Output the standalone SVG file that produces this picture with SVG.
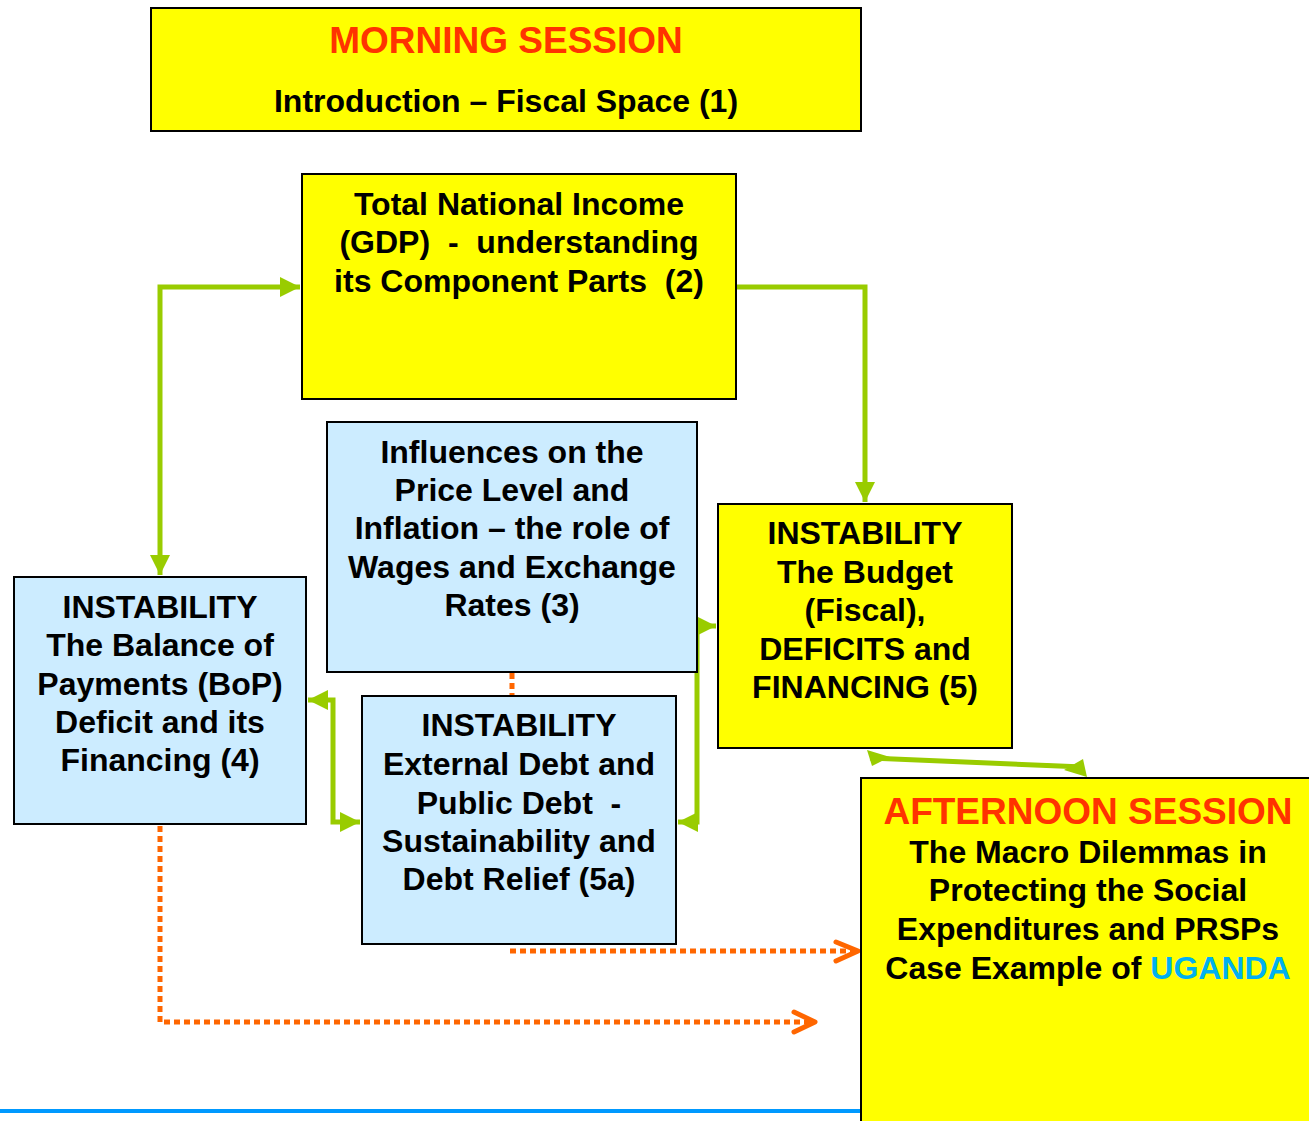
<svg xmlns="http://www.w3.org/2000/svg" width="1309" height="1121" viewBox="0 0 1309 1121">
<style>
.y{fill:#FFFF00;stroke:#000;stroke-width:2}
.b{fill:#CCECFF;stroke:#000;stroke-width:2}
text{font-family:"Liberation Sans",Arial,sans-serif;font-weight:bold;font-size:32px;fill:#000;text-anchor:middle}
.t{font-size:37px;fill:#FF3300}
.g{fill:none;stroke:#99CC00;stroke-width:5}
.o{fill:none;stroke:#FF6600;stroke-width:5;stroke-dasharray:6 4}
.ch{fill:none;stroke:#FF6600;stroke-width:5;stroke-linecap:round;stroke-linejoin:round}
</style>
<defs>
<marker id="ga" viewBox="0 0 10 10" refX="10" refY="5" markerWidth="4" markerHeight="4" orient="auto-start-reverse" markerUnits="strokeWidth">
<path d="M0,0 L10,5 L0,10 Z" fill="#99CC00"/>
</marker>
</defs>
<rect width="1309" height="1121" fill="#fff"/>
<line x1="0" y1="1111" x2="861" y2="1111" stroke="#0099FF" stroke-width="4"/>
<g id="connectors">
<path class="g" d="M160,575 L160,287 L300,287" marker-start="url(#ga)" marker-end="url(#ga)"/>
<path class="g" d="M736,287 L865,287 L865,502" marker-end="url(#ga)"/>
<path class="g" d="M308,700 L333,700 L333,822 L360,822" marker-start="url(#ga)" marker-end="url(#ga)"/>
<path class="g" d="M716,626 L697,626 L697,822 L678,822" marker-start="url(#ga)" marker-end="url(#ga)"/>
<path class="g" d="M870,758 L1083,767" />
<polygon points="867,750 890,757 872,766" fill="#99CC00"/>
<polygon points="1087,777 1064,770 1083,759" fill="#99CC00"/>
<path class="o" d="M512,673 L512,696"/>
<path class="o" d="M510,951 L855,951"/>
<path class="ch" d="M836,942 L858,951 L836,961"/>
<path class="o" d="M160,826 L160,1022 L812,1022"/>
<path class="ch" d="M794,1012 L815,1022 L794,1032"/>
</g>
<g id="morning">
<rect class="y" x="151" y="8" width="710" height="123"/>
<text class="t" x="506" y="53">MORNING SESSION</text>
<text x="506" y="112">Introduction – Fiscal Space (1)</text>
</g>
<g id="node2">
<rect class="y" x="302" y="174" width="434" height="225"/>
<text x="519" y="215">Total National Income</text>
<text x="519" y="253" xml:space="preserve">(GDP)  -  understanding</text>
<text x="519" y="292" xml:space="preserve">its Component Parts  (2)</text>
</g>
<g id="node3">
<rect class="b" x="327" y="422" width="370" height="250"/>
<text x="512" y="463">Influences on the</text>
<text x="512" y="501">Price Level and</text>
<text x="512" y="539">Inflation – the role of</text>
<text x="512" y="578">Wages and Exchange</text>
<text x="512" y="616">Rates (3)</text>
</g>
<g id="node4">
<rect class="b" x="14" y="577" width="292" height="247"/>
<text x="160" y="618">INSTABILITY</text>
<text x="160" y="656">The Balance of</text>
<text x="160" y="695">Payments (BoP)</text>
<text x="160" y="733">Deficit and its</text>
<text x="160" y="771">Financing (4)</text>
</g>
<g id="node5a">
<rect class="b" x="362" y="696" width="314" height="248"/>
<text x="519" y="736">INSTABILITY</text>
<text x="519" y="775">External Debt and</text>
<text x="519" y="814" xml:space="preserve">Public Debt  -</text>
<text x="519" y="852">Sustainability and</text>
<text x="519" y="890">Debt Relief (5a)</text>
</g>
<g id="node5">
<rect class="y" x="718" y="504" width="294" height="244"/>
<text x="865" y="544">INSTABILITY</text>
<text x="865" y="583">The Budget</text>
<text x="865" y="621">(Fiscal),</text>
<text x="865" y="660">DEFICITS and</text>
<text x="865" y="698">FINANCING (5)</text>
</g>
<g id="afternoon">
<rect class="y" x="861" y="778" width="452" height="350"/>
<text class="t" x="1088" y="824">AFTERNOON SESSION</text>
<text x="1088" y="863">The Macro Dilemmas in</text>
<text x="1088" y="901">Protecting the Social</text>
<text x="1088" y="940">Expenditures and PRSPs</text>
<text x="1088" y="979">Case Example of <tspan fill="#00B0F0">UGANDA</tspan></text>
</g>
</svg>
